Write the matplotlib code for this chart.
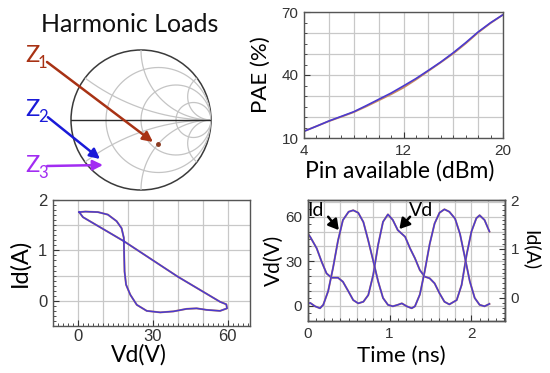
import numpy as np
import matplotlib
matplotlib.use("Agg")
import matplotlib.pyplot as plt
from matplotlib.patches import Circle
from matplotlib.ticker import MultipleLocator

# ---- data ----
# Smith chart grid and load points (normalised reflection coefficient)
r_circles = [1/3, 1, 3]
x_arcs = [1/3, 1, 3, -1/3, -1, -3]
z_names = ["1", "2", "3"]
z_colors = ["#a83214", "#1a1ad8", "#a22cf2"]
z_tips = [(0.171, -0.314), (-0.586, -0.557), (-0.543, -0.643)]
z_tails = [(-1.343, 0.829), (-1.33, 0.04), (-1.34, -0.657)]
z1_point = (0.243, -0.343)

# PAE vs Pin
pin = [4, 5, 6, 7, 8, 9, 10, 11, 12, 13, 14, 15, 16, 17, 18, 19, 20]
pae_a = [13.2, 15.6, 18.1, 20.3, 22.5, 25.4, 28.4, 31.4, 34.8, 38.3, 42.2, 46.2, 50.6, 55.4, 60.5, 64.9, 68.7]
pae_b = [13.2, 15.6, 18.0, 20.1, 22.3, 25.0, 27.9, 30.8, 34.0, 37.8, 41.9, 46.0, 50.2, 55.0, 60.2, 64.7, 68.7]

# dynamic load line
loop_vd = [0.5, 3, 8, 12, 15.5, 17.5, 18.4, 18.5, 18.7, 19.3, 21, 23.6, 27.6, 33, 38.3,
           43.6, 47.6, 51.6, 57, 59.8, 59.5, 57, 40, 18.5, 2, 0.5]
loop_id = [1.76, 1.77, 1.76, 1.71, 1.58, 1.44, 1.25, 0.98, 0.58, 0.32, 0.12, -0.08, -0.2,
           -0.23, -0.21, -0.16, -0.15, -0.18, -0.2, -0.15, -0.07, -0.02, 0.48, 1.18, 1.66, 1.76]

# time domain waveforms
t_vd = [0.0, 0.03, 0.11, 0.17, 0.23, 0.29, 0.37, 0.43, 0.50, 0.556, 0.617, 0.68, 0.74, 0.80,
        0.86, 0.92, 0.98, 1.04, 1.10, 1.19, 1.25, 1.31, 1.37, 1.43, 1.49, 1.55, 1.61, 1.67,
        1.73, 1.82, 1.88, 1.94, 2.00, 2.06, 2.10, 2.16, 2.22]
vd = [48.8, 46.5, 38.7, 29.7, 21.8, 18.9, 18.9, 16.2, 9.4, 3.8, 1.6, 2.7, 7.2, 20.7,
      41, 56.6, 61.6, 57.8, 51, 46.5, 38.7, 32, 24, 19.6, 18.5, 15.1, 8.4, 2.7,
      0.9, 3.8, 14, 34, 50, 59, 61, 57.8, 50]
t_id = [0.0, 0.03, 0.09, 0.15, 0.19, 0.25, 0.31, 0.37, 0.43, 0.50, 0.556, 0.617, 0.68, 0.74,
        0.80, 0.86, 0.92, 0.98, 1.04, 1.10, 1.15, 1.21, 1.27, 1.31, 1.37, 1.43, 1.49, 1.55,
        1.61, 1.67, 1.73, 1.80, 1.86, 1.92, 1.98, 2.04, 2.10, 2.16, 2.22]
idd = [-0.12, -0.10, -0.17, -0.21, -0.14, 0.14, 0.62, 1.17, 1.59, 1.76, 1.79, 1.74, 1.55, 1.17,
       0.76, 0.34, 0.0, -0.14, -0.17, -0.14, -0.11, -0.17, -0.21, -0.17, 0.07, 0.55, 1.10, 1.52,
       1.74, 1.81, 1.76, 1.62, 1.31, 0.83, 0.34, 0.0, -0.14, -0.17, -0.12]

# ---- style ----
W, H = 550, 373
lab = "Lato"
tickfont = "Liberation Sans"
gridc = "#c8c8c8"
spinec = "#555555"
c_under = "#c98a60"
c_top = "#4a3ad0"

fig = plt.figure(figsize=(5.5, 3.73), dpi=100)


def box(l, t, r, b):
    return [l / W, 1 - b / H, (r - l) / W, (b - t) / H]


def style(ax, size):
    for s in ax.spines.values():
        s.set_color(spinec)
        s.set_linewidth(1.0)
    ax.tick_params(which="both", direction="in", colors="#333333", labelsize=size, pad=4)
    ax.tick_params(which="major", length=4)
    ax.tick_params(which="minor", length=2.5)
    for lbl in ax.get_xticklabels() + ax.get_yticklabels():
        lbl.set_fontfamily(tickfont)


def grid_lines(ax, xs, ys):
    for v in xs:
        ax.axvline(v, color=gridc, lw=0.9, zorder=0)
    for v in ys:
        ax.axhline(v, color=gridc, lw=0.9, zorder=0)


# ---- Smith chart ----
ax0 = fig.add_axes(box(71, 50, 211, 190))
ax0.set_xlim(-1, 1)
ax0.set_ylim(-1, 1)
ax0.axis("off")
clip = Circle((0, 0), 1, transform=ax0.transData, fill=False)
th = np.linspace(0, 2 * np.pi, 600)
for r in r_circles:
    c, rad = r / (1 + r), 1 / (1 + r)
    ln, = ax0.plot(c + rad * np.cos(th), rad * np.sin(th), color="#c4c4c4", lw=0.9)
    ln.set_clip_path(clip)
for x in x_arcs:
    rad = 1 / abs(x)
    ln, = ax0.plot(1 + rad * np.cos(th), 1 / x + rad * np.sin(th), color="#c4c4c4", lw=0.9)
    ln.set_clip_path(clip)
ax0.add_patch(Circle((0, 0), 1, fill=False, ec="#3a3a3a", lw=1.1, clip_on=False))
ax0.plot([-1, 1], [0, 0], color="#2a2a2a", lw=1.0)
ax0.plot(*z1_point, "o", color="#8a3a20", ms=2.5)
for tip, tail, col in zip(z_tips, z_tails, z_colors):
    ax0.annotate("", xy=tip, xytext=tail, xycoords="data", textcoords="data",
                 annotation_clip=False,
                 arrowprops=dict(arrowstyle="-|>,head_length=0.6,head_width=0.3",
                                 color=col, lw=1.8, shrinkA=0, shrinkB=0))

fig.text(130 / W, 1 - 24 / H, "Harmonic Loads", family=lab, size=18,
         ha="center", va="center", color="#111111")
z_ys = [55, 109, 165]
for name, col, y in zip(z_names, z_colors, z_ys):
    fig.text(25 / W, 1 - y / H, "Z", family=lab, size=17, color=col, ha="left", va="center")
    fig.text(38 / W, 1 - (y + 8) / H, name, family=lab, size=12, color=col, ha="left", va="center")

# ---- PAE vs Pin ----
ax1 = fig.add_axes(box(304, 12, 503, 138))
ax1.plot(pin, pae_b, color=c_under, lw=1.3)
ax1.plot(pin, pae_a, color=c_top, lw=1.2)
ax1.set_xlim(4, 20)
ax1.set_ylim(10, 70)
ax1.set_xticks([4, 12, 20])
ax1.set_yticks([10, 40, 70])
ax1.xaxis.set_minor_locator(MultipleLocator(1))
ax1.yaxis.set_minor_locator(MultipleLocator(5))
grid_lines(ax1, np.arange(4, 21, 2), np.arange(10, 71, 10))
style(ax1, 11)
ax1.set_ylabel("PAE (%)", family=lab, size=16)
ax1.yaxis.label.set_va("center")
ax1.yaxis.set_label_coords(-0.215, 0.5)
ax1.set_xlabel("Pin available (dBm)", family=lab, size=16.5)
ax1.xaxis.label.set_va("center")
ax1.xaxis.set_label_coords(0.48, -0.26)

# ---- load line ----
ax2 = fig.add_axes(box(53, 200, 250, 326))
ax2.plot(loop_vd, loop_id, color=c_under, lw=1.4)
ax2.plot(loop_vd, loop_id, color=c_top, lw=1.1)
ax2.set_xlim(-10, 69)
ax2.set_ylim(-0.5, 2)
ax2.set_xticks([0, 30, 60])
ax2.set_yticks([0, 1, 2])
ax2.xaxis.set_minor_locator(MultipleLocator(2))
ax2.yaxis.set_minor_locator(MultipleLocator(0.1))
grid_lines(ax2, np.arange(-10, 70, 10), np.arange(-0.5, 2.01, 0.5))
style(ax2, 12)
ax2.tick_params(axis="x", pad=2)
ax2.set_ylabel("Id(A)", family=lab, size=17)
ax2.yaxis.label.set_va("center")
ax2.yaxis.set_label_coords(-0.168, 0.5)
ax2.set_xlabel("Vd(V)", family=lab, size=16.5)
ax2.xaxis.label.set_va("center")
ax2.xaxis.set_label_coords(0.434, -0.225)

# ---- time domain ----
ax3 = fig.add_axes(box(307.7, 200, 505, 321))
ax3b = ax3.twinx()
ax3.plot(t_vd, vd, color=c_under, lw=1.4)
ax3.plot(t_vd, vd, color=c_top, lw=1.1)
ax3b.plot(t_id, idd, color=c_under, lw=1.4)
ax3b.plot(t_id, idd, color=c_top, lw=1.1)
ax3.set_xlim(0, 2.41)
ax3.set_ylim(-10.3, 71.3)
ax3b.set_ylim(-0.47, 2.0)
ax3.set_xticks([0, 1, 2])
ax3.set_yticks([0, 30, 60])
ax3b.set_yticks([0, 1, 2])
ax3.xaxis.set_minor_locator(MultipleLocator(0.1))
ax3.yaxis.set_minor_locator(MultipleLocator(5))
ax3b.yaxis.set_minor_locator(MultipleLocator(0.1))
grid_lines(ax3, np.arange(0, 2.41, 0.2), np.arange(-10, 71, 10))
style(ax3, 11)
style(ax3b, 11)
ax3.set_ylabel("Vd(V)", family=lab, size=15)
ax3.yaxis.label.set_va("center")
ax3.yaxis.set_label_coords(-0.17, 0.5)
ax3b.set_ylabel("Id(A)", family=lab, size=14, rotation=-90)
ax3b.yaxis.label.set_va("center")
ax3b.yaxis.set_label_coords(1.132, 0.587)
ax3.set_xlabel("Time (ns)", family=lab, size=16)
ax3.xaxis.label.set_va("center")
ax3.xaxis.set_label_coords(0.475, -0.29)

arrow = dict(arrowstyle="-|>,head_length=0.6,head_width=0.35", color="black", lw=1.8,
             shrinkA=0, shrinkB=0)
ax3.text(0.1, 64.5, "Id", family=lab, size=14, ha="center", va="center")
ax3.annotate("", xy=(0.38, 51), xytext=(0.25, 60), arrowprops=arrow)
ax3.text(1.39, 64.5, "Vd", family=lab, size=14, ha="center", va="center")
ax3.annotate("", xy=(1.12, 51.7), xytext=(1.25, 60), arrowprops=arrow)

fig.savefig("out.png", dpi=100)
